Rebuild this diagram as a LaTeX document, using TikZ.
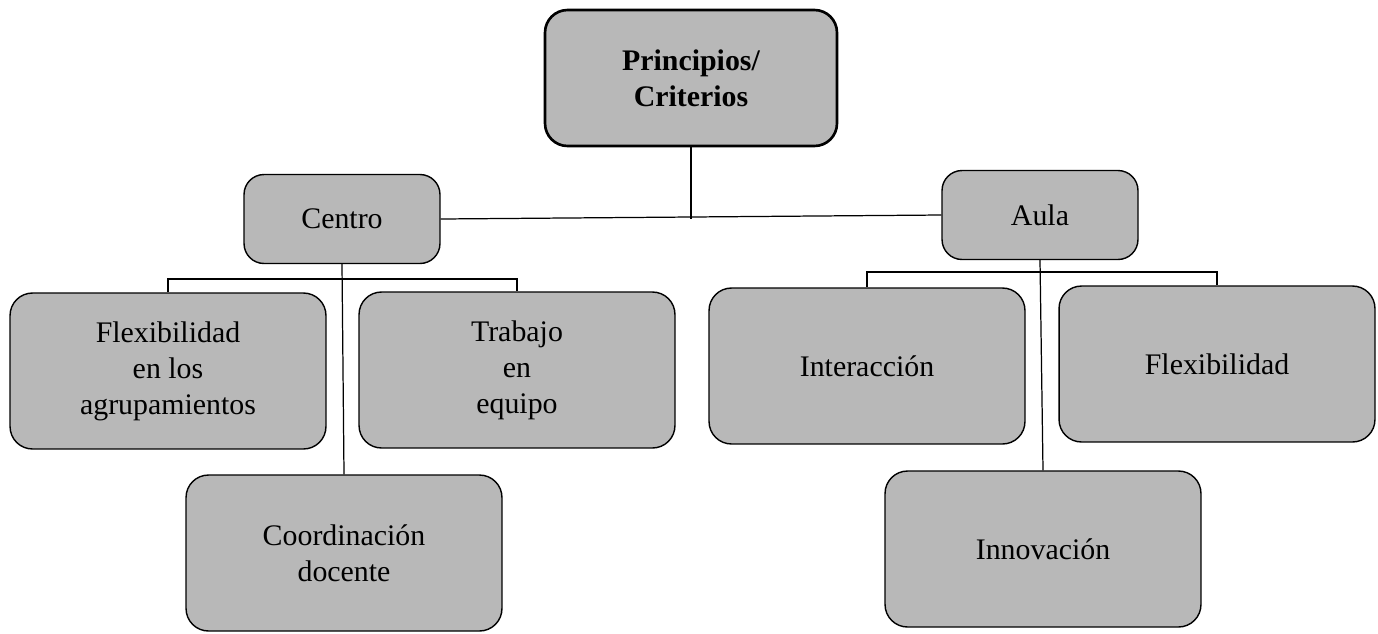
\documentclass[tikz,border=0pt]{standalone}
\usepackage{fontspec}
\setmainfont{Liberation Serif}
\begin{document}
\begin{tikzpicture}[x=0.02cm,y=-0.02cm,
  caja/.style={draw,fill=black!28,rounded corners=0.45cm,align=center,inner sep=0pt,
    font=\fontsize{17}{20.5}\selectfont,line width=0.8pt},
  grande/.style={caja,minimum width=6.32cm,minimum height=3.12cm},
  media/.style={caja,minimum width=3.92cm,minimum height=1.78cm,rounded corners=0.4cm},
  linea/.style={line width=0.7pt}]
\useasboundingbox (0,0) rectangle (1378,633);
%top
\node[caja,line width=1.5pt,minimum width=5.84cm,minimum height=2.72cm,
  font=\fontsize{17}{20.5}\selectfont\bfseries] (prin) at (691,78) {Principios/\\Criterios};
\node[media] (centro) at (342,219) {Centro};
\node[media] (aula) at (1040,215) {Aula};
%left
\node[grande] (flexc) at (168,371) {Flexibilidad\\en los\\agrupamientos};
\node[grande] (trab) at (517,370) {Trabajo\\en\\equipo};
\node[grande] (coord) at (344,553) {Coordinación\\docente};
%right
\node[grande] (inter) at (867,366) {Interacción};
\node[grande] (flexa) at (1217,364) {Flexibilidad};
\node[grande] (innov) at (1043,549) {Innovación};
%lines
\coordinate (busl) at (342,279);
\coordinate (busr) at (1042,272);
\draw[linea] (centro.east) -- (aula.west);
\draw[linea] (prin.south) -- (prin.south |- centro.east);
\draw[linea] (flexc.north) |- (busl) -| (trab.north);
\draw[linea] (centro.south) -- (coord.north);
\draw[linea] (inter.north) |- (busr) -| (flexa.north);
\draw[linea] (aula.south) -- (innov.north);
\end{tikzpicture}
\end{document}
